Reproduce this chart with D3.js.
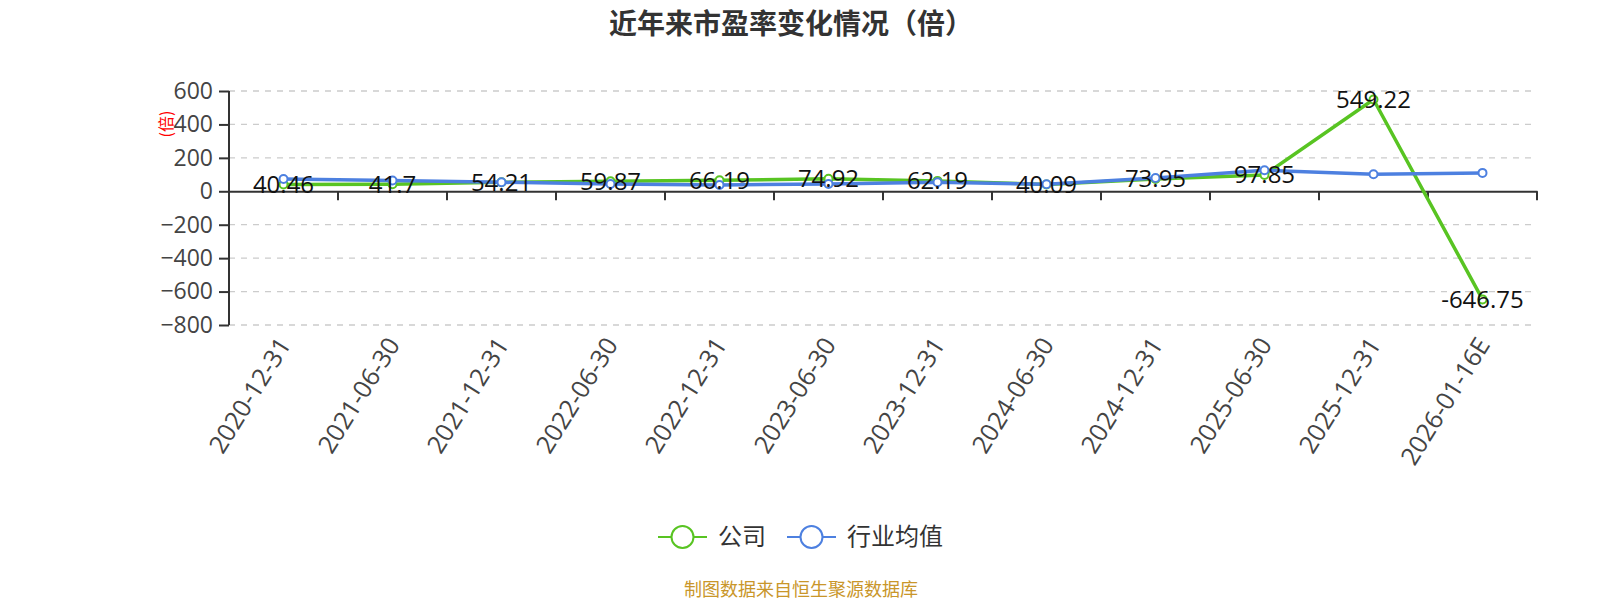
<!DOCTYPE html>
<html>
<head>
<meta charset="utf-8">
<script src="https://cdn.jsdelivr.net/npm/d3@7"></script>
<style>
  body { margin: 0; background: #fff; font-family: "Noto Sans CJK SC", "Noto Sans", sans-serif; }
</style>
</head>
<body>
<div id="chart"></div>
<script>
// categories and series
var dates = ["2020-12-31", "2021-06-30", "2021-12-31", "2022-06-30", "2022-12-31", "2023-06-30",
  "2023-12-31", "2024-06-30", "2024-12-31", "2025-06-30", "2025-12-31", "2026-01-16E"];
var companyPE = [40.46, 41.7, 54.21, 59.87, 66.19, 74.92, 62.19, 40.09, 73.95, 97.85, 549.22, -646.75];
var industryPE = [74, 64, 54, 44, 38, 44, 54, 42, 80, 126, 102, 110];
var yTicks = [-800, -600, -400, -200, 0, 200, 400, 600];
var legendNames = ["公司", "行业均值"];

var svgWidth = 1600, svgHeight = 600;
var margin = { top: 91, left: 229, right: 63, bottom: 275 };
var chartWidth = svgWidth - margin.left - margin.right;
var chartHeight = svgHeight - margin.top - margin.bottom;

var green = "#58c422", blue = "#4d80e0";
var numFont = "'Open Sans', 'Noto Sans', sans-serif";

var svg = d3.select("#chart").append("svg")
  .attr("width", svgWidth)
  .attr("height", svgHeight);

// title
svg.append("text")
  .attr("x", 791).attr("y", 34)
  .attr("text-anchor", "middle")
  .attr("font-size", "28px")
  .attr("font-weight", "bold")
  .attr("fill", "#333")
  .text("近年来市盈率变化情况（倍）");

var chartGroup = svg.append("g")
  .attr("transform", `translate(${margin.left}, ${margin.top})`);

var xScale = d3.scaleBand().domain(dates).range([0, chartWidth]);
var yScale = d3.scaleLinear().domain([-800, 600]).range([chartHeight, 0]);

// dashed grid
chartGroup.selectAll(".grid")
  .data(yTicks.filter(d => d !== 0))
  .enter().append("line")
  .attr("x1", 0).attr("x2", chartWidth)
  .attr("y1", d => yScale(d)).attr("y2", d => yScale(d))
  .attr("stroke", "#ccc")
  .attr("stroke-width", 1.3)
  .attr("stroke-dasharray", "6,6");

// y axis
var leftAxis = d3.axisLeft(yScale).tickValues(yTicks).tickSize(10).tickPadding(6);
var yAxis = chartGroup.append("g").call(leftAxis);
yAxis.select(".domain").attr("stroke", "#333").attr("stroke-width", 2).attr("d", `M0,0V${chartHeight}`);
yAxis.selectAll(".tick line").attr("stroke", "#333").attr("stroke-width", 2);
yAxis.selectAll("text")
  .attr("font-size", "23px")
  .attr("fill", "#444")
  .attr("font-family", numFont);

// y axis name
svg.append("text")
  .attr("transform", "translate(166, 124) rotate(-90)")
  .attr("text-anchor", "middle")
  .attr("dy", "0.35em")
  .attr("font-size", "16px")
  .attr("fill", "#f00")
  .text("(倍)");

// x axis at zero
var bottomAxis = d3.axisBottom(xScale).tickSize(0).tickFormat("");
var xAxis = chartGroup.append("g")
  .attr("transform", `translate(0, ${yScale(0)})`)
  .call(bottomAxis);
xAxis.select(".domain").attr("stroke", "#333").attr("stroke-width", 2);
xAxis.selectAll(".bound")
  .data(dates.slice(1))
  .enter().append("line")
  .attr("x1", d => xScale(d)).attr("x2", d => xScale(d))
  .attr("y1", 0).attr("y2", 9)
  .attr("stroke", "#333").attr("stroke-width", 2);
xAxis.append("line")
  .attr("x1", chartWidth).attr("x2", chartWidth)
  .attr("y1", 0).attr("y2", 9)
  .attr("stroke", "#333").attr("stroke-width", 2);

// category labels at bottom, rotated
chartGroup.selectAll(".xlabel")
  .data(dates)
  .enter().append("text")
  .attr("transform", d => `translate(${xScale(d) + xScale.bandwidth() / 2 + 1}, ${chartHeight + 15}) rotate(-58)`)
  .attr("text-anchor", "end")
  .attr("dy", "0.35em")
  .attr("font-size", "25px")
  .attr("fill", "#444")
  .attr("font-family", numFont)
  .text(d => d);

var cx = d => xScale(d) + xScale.bandwidth() / 2;

function drawSeries(values, color) {
  var line = d3.line()
    .x((v, i) => cx(dates[i]))
    .y(v => yScale(v));
  chartGroup.append("path")
    .datum(values)
    .attr("fill", "none")
    .attr("stroke", color)
    .attr("stroke-width", 3.5)
    .attr("stroke-linejoin", "round")
    .attr("d", line);
  chartGroup.selectAll(null)
    .data(values)
    .enter().append("circle")
    .attr("cx", (v, i) => cx(dates[i]))
    .attr("cy", v => yScale(v))
    .attr("r", 4)
    .attr("fill", "#fff")
    .attr("stroke", color)
    .attr("stroke-width", 2);
}

drawSeries(companyPE, green);
drawSeries(industryPE, blue);

// value labels of company series
chartGroup.selectAll(".vlabel")
  .data(companyPE)
  .enter().append("text")
  .attr("x", (v, i) => cx(dates[i]))
  .attr("y", v => yScale(v))
  .attr("dy", "0.35em")
  .attr("text-anchor", "middle")
  .attr("font-size", "24px")
  .attr("fill", "#111")
  .attr("font-family", numFont)
  .text(v => v);

// legend
var legend = svg.append("g").attr("transform", "translate(658, 537)");
var legendColors = [green, blue];
var legendX = [0, 129];
legendNames.forEach((name, i) => {
  var g = legend.append("g").attr("transform", `translate(${legendX[i]}, 0)`);
  g.append("line").attr("x1", 0).attr("x2", 49).attr("y1", 0).attr("y2", 0)
    .attr("stroke", legendColors[i]).attr("stroke-width", 2);
  g.append("circle").attr("cx", 24.5).attr("cy", 0).attr("r", 11)
    .attr("fill", "#fff").attr("stroke", legendColors[i]).attr("stroke-width", 2);
  g.append("text").attr("x", 60).attr("y", 0).attr("dy", "0.35em")
    .attr("font-size", "24px").attr("fill", "#333")
    .text(name);
});

// source note
svg.append("text")
  .attr("x", 801).attr("y", 596)
  .attr("text-anchor", "middle")
  .attr("font-size", "18px")
  .attr("fill", "#c9962a")
  .text("制图数据来自恒生聚源数据库");
</script>
</body>
</html>
